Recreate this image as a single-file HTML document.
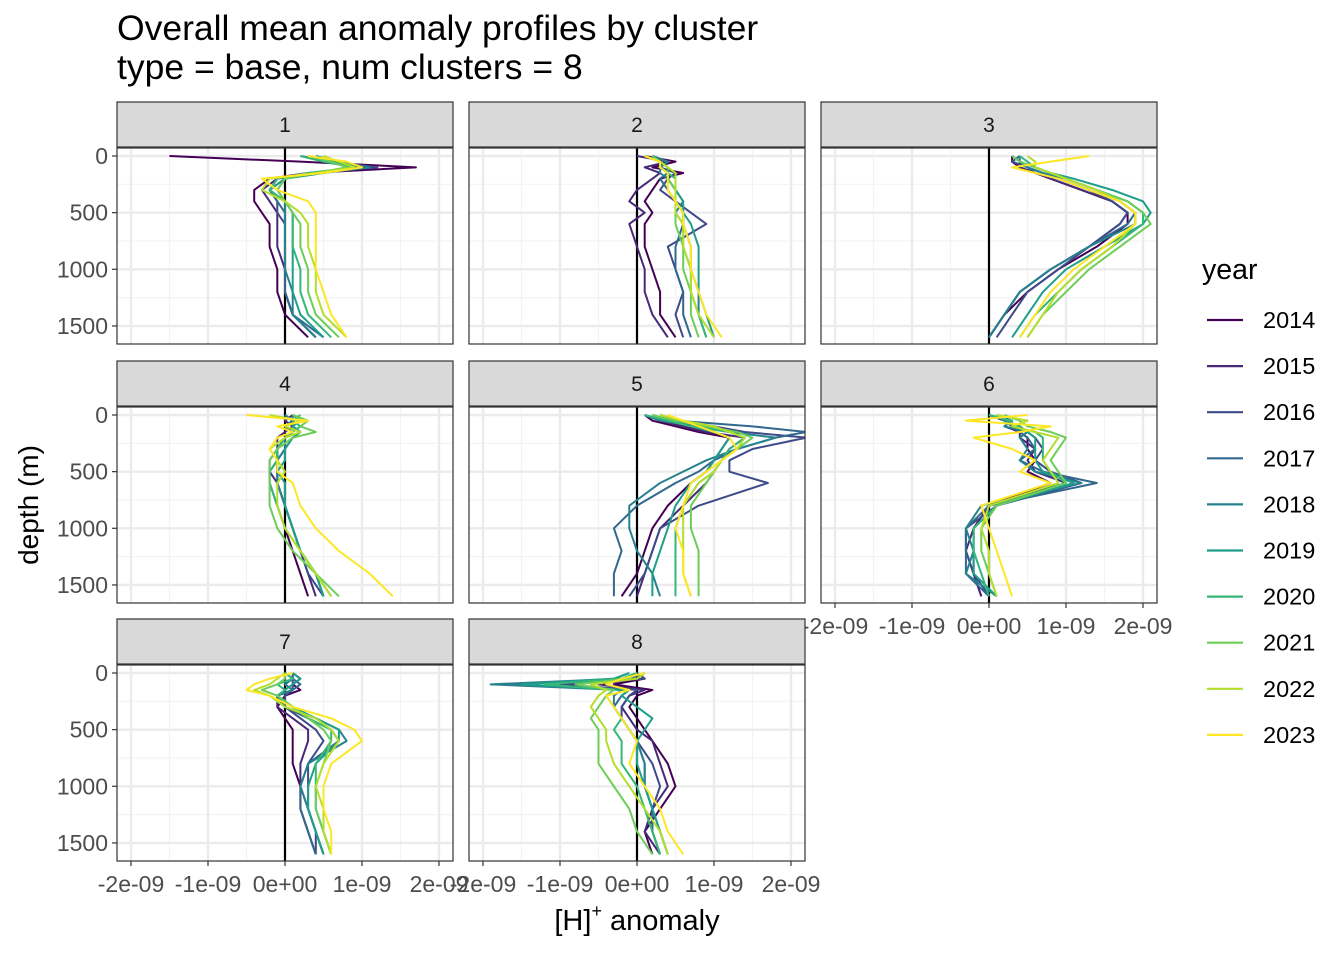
<!DOCTYPE html>
<html><head><meta charset="utf-8"><style>
body{margin:0;background:#fff;}
svg text{font-family:"Liberation Sans",sans-serif;}
</style></head><body>
<svg id="chart" width="1344" height="960" xmlns="http://www.w3.org/2000/svg">
<text x="117" y="40" font-size="35.5" fill="#000">Overall mean anomaly profiles by cluster</text>
<text x="117" y="79" font-size="35.5" fill="#000">type = base, num clusters = 8</text>
<text transform="translate(38,505) rotate(-90)" text-anchor="middle" font-size="28">depth (m)</text>
<text x="637" y="930" text-anchor="middle" font-size="29">[H]<tspan dy="-13" font-size="18">+</tspan><tspan dy="13"> anomaly</tspan></text>
<g id="panels"></g>
<g id="legend">
<text x="1202" y="279" font-size="28.5">year</text>
</g>
</svg>
<script>
const depths=[0,50,100,150,200,300,400,500,600,800,1000,1200,1400,1600];
const years=["2014","2015","2016","2017","2018","2019","2020","2021","2022","2023"];
const colors=["#440154","#482878","#3E4A89","#31688E","#26828E","#1F9E89","#35B779","#6DCD59","#B4DE2C","#FDE725"];
const xTicks=[-20,-10,0,10,20];
const xTickLabels=["-2e-09","-1e-09","0e+00","1e-09","2e-09"];
const yTicks=[0,500,1000,1500];
const c1=[[-15,2,17,3,-2,-4,-4,-3,-2,-2,-1,-1,0,3],[3,5,10,4,-1,-3,-2,-1,-1,-1,0,0,1,4],[2,6,12,3,-1,-2,-1,-1,0,0,0,0,1,4],[4,5,9,4,0,-2,-1,0,0,0,0,0,1,5],[3,6,11,5,0,-1,0,0,0,0,0,1,1,4],[4,7,10,5,0,-2,0,1,1,1,1,1,2,5],[2,5,9,3,-1,-2,0,1,1,1,2,2,3,6],[3,6,8,4,0,-1,0,1,2,2,3,3,4,7],[5,7,9,4,-2,-3,0,2,3,3,4,4,5,8],[3,8,10,5,-3,-1,3,4,4,4,4,5,6,8]];
const c2=[[1,5,2,6,3,2,1,2,1,1,2,3,3,5],[0,4,1,3,2,0,-1,1,-1,0,1,1,2,4],[2,4,3,5,4,3,5,7,9,4,5,6,5,6],[1,3,4,4,3,4,5,6,6,5,5,6,6,7],[2,4,3,3,4,5,6,5,6,7,7,8,8,9],[1,3,3,4,4,5,6,6,7,8,8,8,9,10],[1,3,4,4,5,5,5,6,6,6,7,7,8,9],[2,3,3,4,4,5,5,5,5,6,6,7,7,8],[1,3,4,5,5,5,5,5,6,6,7,7,8,10],[1,3,3,4,4,4,5,6,6,7,7,8,9,11]];
const c3=[[3,3,4,6,8,12,16,18,18,14,9,5,2,0],[3,4,4,6,8,12,16,18,17,13,8,4,2,0],[4,3,5,6,9,13,16,18,17,13,9,5,3,1],[3,4,5,7,9,13,17,19,18,13,8,4,2,0],[4,4,5,7,10,14,17,19,19,13,8,4,2,0],[3,4,6,8,11,16,20,21,20,15,10,7,5,3],[4,5,6,8,10,14,18,20,20,16,12,9,6,4],[3,4,6,8,10,14,18,20,21,17,13,10,7,5],[5,6,6,8,10,14,17,19,19,16,12,9,7,5],[13,8,3,6,9,13,17,19,19,15,11,8,6,4]];
const c4=[[0,1,0,1,0,-1,-1,-2,-2,-1,0,1,2,3],[1,0,1,0,-1,-1,-2,-2,-1,0,1,2,3,4],[0,1,0,1,0,-1,-1,-1,-1,0,1,2,3,5],[1,1,0,1,0,0,-1,-1,-1,0,1,2,4,5],[0,1,1,2,1,0,-1,-1,-1,0,1,2,4,5],[1,2,1,2,1,0,0,-1,0,0,1,2,4,5],[2,1,2,1,0,-1,-1,-2,-2,-1,0,2,4,6],[1,3,2,4,1,-1,-2,-2,-2,-2,-1,1,4,7],[-2,2,0,2,0,-2,-1,0,-1,-1,0,2,4,6],[-5,3,-1,1,-1,-2,-1,-1,1,2,4,7,11,14]];
const c5=[[1,2,5,8,12,11,10,9,7,4,2,1,0,-2],[1,3,6,9,14,12,11,10,9,6,3,2,1,0],[2,4,10,14,22,15,12,12,17,8,3,2,1,-1],[3,5,15,22,18,13,10,8,5,0,-3,-2,-3,-3],[1,3,8,12,18,13,9,6,3,-1,-1,0,2,3],[2,4,7,10,12,11,10,9,7,5,4,3,2,2],[1,4,7,12,14,12,11,10,8,6,5,5,5,5],[2,5,9,13,15,13,11,10,9,7,7,8,8,8],[3,6,10,12,14,13,11,10,8,6,6,6,6,7],[4,6,8,10,12,13,11,9,7,6,5,6,6,7]];
const c6=[[1,2,3,4,5,5,6,5,8,0,-2,-2,-2,-1],[1,3,2,4,4,6,5,6,10,0,-2,-3,-2,-1],[0,2,4,5,6,7,6,8,12,1,-3,-3,-2,0],[1,2,3,4,5,6,4,7,14,0,-3,-3,-3,0],[0,3,2,5,4,5,4,6,12,-1,-3,-2,-3,1],[1,2,4,5,6,6,6,7,11,1,-2,-2,-2,1],[0,3,3,6,7,7,7,8,10,1,-2,-2,-1,0],[2,4,5,8,10,9,8,9,10,1,-1,-1,0,1],[1,5,3,6,9,8,7,8,9,0,-1,0,0,1],[5,-3,8,4,-2,3,6,4,8,-1,0,1,2,3]];
const c7=[[1,2,1,2,0,-1,0,1,1,1,2,2,3,4],[0,1,0,1,-1,-1,1,3,3,2,2,3,4,5],[1,1,1,1,0,0,2,4,5,3,3,3,4,4],[1,1,2,1,-1,0,3,6,7,3,2,2,3,4],[0,1,0,1,-1,0,4,7,8,3,2,3,4,5],[1,2,1,0,-1,1,4,7,7,4,3,3,4,5],[0,1,-1,0,-1,1,3,6,6,4,4,4,5,6],[0,0,-1,-3,-1,1,3,5,6,5,4,4,5,6],[0,-1,-2,-4,-2,0,4,6,7,5,4,5,5,6],[1,-2,-4,-5,-2,1,6,9,10,6,5,5,6,6]];
const c8=[[0,1,-3,2,0,-1,0,1,2,4,5,3,1,2],[1,0,-5,1,-1,-2,-1,0,2,3,4,2,1,3],[0,1,-10,0,-1,-2,-2,-1,0,2,3,2,2,3],[1,-1,-17,-1,-2,-3,-2,-1,0,1,1,2,2,3],[0,-2,-19,-2,-3,-3,-2,-1,0,1,1,2,3,4],[-1,-3,-15,-1,-2,0,2,1,0,0,1,2,3,4],[0,-2,-12,-3,-4,-3,-2,-3,-2,-2,0,1,2,3],[0,-1,-8,-3,-4,-5,-6,-5,-5,-5,-3,-1,0,2],[1,0,-6,-4,-5,-6,-5,-4,-4,-3,-1,1,3,4],[1,-2,-4,-1,-4,-3,-2,-1,0,-1,1,3,4,6]];
const clusters=[c1,c2,c3,c4,c5,c6,c7,c8];

const NS="http://www.w3.org/2000/svg";
const root=document.getElementById('panels');
function mk(tag,attrs,parent){const e=document.createElementNS(NS,tag);for(const k in attrs)e.setAttribute(k,attrs[k]);parent.appendChild(e);return e;}
const colX=[117,469,821], rowY=[102,361,619];
const PW=336, SH=45, PH=196;
clusters.forEach((data,i)=>{
  const col=i%3,row=Math.floor(i/3);
  const L=colX[col],T=rowY[row],PT=T+SH+1;
  const sx=v=>L+168+v*7.7;
  const sy=d=>PT+8+d*0.1133;
  const g=mk('g',{},root);
  
  
  const strip=mk('rect',{x:L,y:T,width:PW,height:SH,fill:'#D9D9D9',stroke:'#333',"stroke-width":1.2},g);
  
  
  const st=mk('text',{x:L+PW/2,y:T+30,"text-anchor":"middle","font-size":21,fill:'#1A1A1A'},g);
  st.textContent=String(i+1);
  
  
  mk('rect',{x:L,y:PT,width:PW,height:PH,fill:'#fff'},g);
  const cid='clip'+i;
  const cp=mk('clipPath',{id:cid},g);
  mk('rect',{x:L,y:PT,width:PW,height:PH},cp);
  const grid=mk('g',{"clip-path":"url(#"+cid+")"},g);
  [-25,-15,-5,5,15,25].forEach(v=>mk('line',{x1:sx(v),x2:sx(v),y1:PT,y2:PT+PH,stroke:'#F3F3F3',"stroke-width":1.2},grid));
  [250,750,1250].forEach(d=>mk('line',{x1:L,x2:L+PW,y1:sy(d),y2:sy(d),stroke:'#F3F3F3',"stroke-width":1.2},grid));
  xTicks.forEach(v=>mk('line',{x1:sx(v),x2:sx(v),y1:PT,y2:PT+PH,stroke:'#EBEBEB',"stroke-width":2.4},grid));
  yTicks.forEach(d=>mk('line',{x1:L,x2:L+PW,y1:sy(d),y2:sy(d),stroke:'#EBEBEB',"stroke-width":2.4},grid));
  mk('line',{x1:sx(0),x2:sx(0),y1:PT,y2:PT+PH,stroke:'#000',"stroke-width":2.2},grid);
  data.forEach((vals,k)=>{
    const p=mk('polyline',{points:vals.map((v,j)=>sx(v)+','+sy(depths[j])).join(' '),fill:'none',stroke:colors[k],"stroke-width":2,"stroke-linejoin":"round"},grid);
    
    
  });
  mk('rect',{x:L,y:PT,width:PW,height:PH,fill:'none',stroke:'#333',"stroke-width":1.2},g);
  if(col===0){
    yTicks.forEach(d=>{
      mk('line',{x1:L-5,x2:L,y1:sy(d),y2:sy(d),stroke:'#333',"stroke-width":1.2},g);
      const t=mk('text',{x:L-9,y:sy(d)+8,"text-anchor":"end","font-size":23,fill:'#4D4D4D'},g);
      t.textContent=String(d);
      
      
    });
  }
  if(row===2||i===5){
    xTicks.forEach((v,m)=>{
      mk('line',{x1:sx(v),x2:sx(v),y1:PT+PH,y2:PT+PH+5,stroke:'#333',"stroke-width":1.2},g);
      const t=mk('text',{x:sx(v),y:PT+PH+31,"text-anchor":"middle","font-size":23,fill:'#4D4D4D'},g);
      t.textContent=xTickLabels[m];
      
      
    });
  }
});
const lg=document.getElementById('legend');
years.forEach((y,k)=>{
  const cy=320+k*46.1;
  const l=mk('line',{x1:1207,x2:1243,y1:cy,y2:cy,stroke:colors[k],"stroke-width":2.2},lg);
  
  
  const t=mk('text',{x:1263,y:cy+8,"font-size":23.5,fill:'#000'},lg);
  t.textContent=y;
  
  
});
</script>
</body></html>
